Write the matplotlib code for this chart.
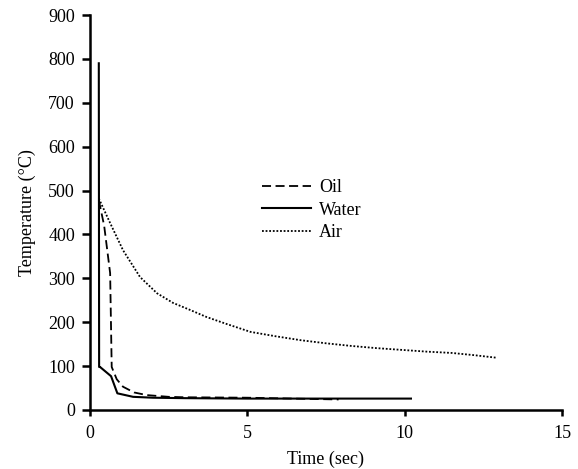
import numpy as np
import matplotlib
matplotlib.use("Agg")
import matplotlib.pyplot as plt

# ── data ─────────────────────────────────────────────────────
oil_t = [0.28, 0.45, 0.64, 0.69, 0.85, 1.05, 1.4, 1.8, 2.5, 3.0, 5.0, 7.9]
oil_T = [478, 420, 312, 98, 70, 53, 40, 34, 30, 29, 28, 24]

water_t = [0.28, 0.29, 0.32, 0.67, 0.87, 1.37, 2.0, 3.0, 5.0, 8.0, 10.2]
water_T = [790, 98, 98, 77, 38, 30, 28, 27, 26, 26, 26]

air_t = [0.28, 0.64, 1.05, 1.59, 2.13, 2.64, 3.18, 3.7, 4.3, 5.1, 5.9,
         6.7, 7.5, 8.3, 9.1, 9.9, 10.7, 11.5, 12.2, 12.93]
air_T = [482, 426, 364, 303, 266, 244, 228, 212, 197, 178, 168,
         159, 152, 146, 141, 137, 133, 130, 125, 119]

x_ticks = [0, 5, 10, 15]
y_ticks = [0, 100, 200, 300, 400, 500, 600, 700, 800, 900]

plt.rcParams["font.family"] = ["Liberation Serif", "DejaVu Serif"]
plt.rcParams["font.size"] = 13

fig = plt.figure(figsize=(5.78, 4.69), dpi=100)
ax = fig.add_axes([0.1557, 0.1258, 0.8166, 0.8422])

ax.plot(oil_t, oil_T, color="black", linestyle=(0, (5, 2.5)), lw=1.3, label="Oil")
ax.plot(water_t, water_T, color="black", linestyle="-", lw=1.5, label="Water")
ax.plot(air_t, air_T, color="black", linestyle=(0, (1, 1)), lw=1.3, label="Air")

ax.set_xlim(0, 15)
ax.set_ylim(0, 900)
ax.set_xticks(x_ticks)
ax.set_yticks(y_ticks)
ax.set_xlabel("Time (sec)", labelpad=6)
ax.set_ylabel("Temperature (°C)", labelpad=9)

for s in ["top", "right"]:
    ax.spines[s].set_visible(False)
for s in ["left", "bottom"]:
    ax.spines[s].set_linewidth(1.8)
ax.tick_params(axis="x", direction="out", length=4, width=1.8, pad=7)
ax.tick_params(axis="y", direction="out", length=5.8, width=1.8, pad=5)

ax.legend(loc="upper left", bbox_to_anchor=(0.33, 0.625), frameon=False,
          handlelength=2.7, handletextpad=0.45, labelspacing=0.3)

fig.savefig("out.png", dpi=100)
